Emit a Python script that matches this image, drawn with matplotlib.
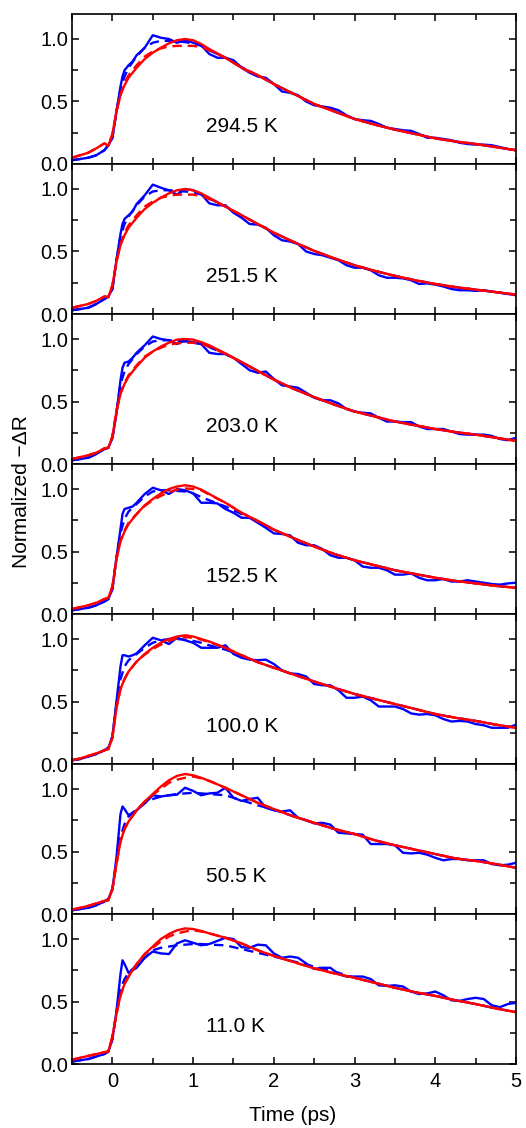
import matplotlib
matplotlib.use("Agg")
import matplotlib.pyplot as plt
from matplotlib.ticker import MultipleLocator, FormatStrFormatter

plt.rcParams["font.family"] = ["Liberation Sans", "DejaVu Sans"]

temps = ["294.5 K", "251.5 K", "203.0 K", "152.5 K", "100.0 K", "50.5 K", "11.0 K"]

# measured traces (blue solid)
t_data = [-0.5, -0.4, -0.3, -0.2, -0.1, -0.05, 0.0, 0.05, 0.1, 0.125, 0.15, 0.2, 0.25, 0.3,
          0.4, 0.5, 0.6, 0.7, 0.8, 0.9, 1.0,
          1.1, 1.2, 1.3, 1.4, 1.5, 1.6, 1.7, 1.8, 1.9, 2.0,
          2.1, 2.2, 2.3, 2.4, 2.5, 2.6, 2.7, 2.8, 2.9, 3.0,
          3.1, 3.2, 3.3, 3.4, 3.5, 3.6, 3.7, 3.8, 3.9, 4.0,
          4.1, 4.2, 4.3, 4.4, 4.5, 4.6, 4.7, 4.8, 4.9, 5.0]

blue_2945 = [0.03, 0.04, 0.05, 0.07, 0.11, 0.15, 0.21, 0.42, 0.62, 0.70, 0.75, 0.79, 0.82, 0.87,
             0.93, 1.03, 1.01, 1.00, 0.97, 0.99, 0.97,
             0.95, 0.88, 0.85, 0.85, 0.83, 0.77, 0.73, 0.70, 0.69, 0.64,
             0.58, 0.57, 0.55, 0.50, 0.47, 0.46, 0.45, 0.43, 0.39, 0.36,
             0.35, 0.345, 0.32, 0.29, 0.28, 0.27, 0.265, 0.24, 0.21, 0.21,
             0.20, 0.19, 0.17, 0.16, 0.155, 0.155, 0.15, 0.135, 0.12, 0.11]
blue_2515 = [0.03, 0.04, 0.05, 0.08, 0.12, 0.14, 0.20, 0.43, 0.64, 0.72, 0.76, 0.79, 0.82, 0.88,
             0.95, 1.035, 1.01, 0.99, 0.955, 1.0, 0.99,
             0.96, 0.885, 0.87, 0.87, 0.81, 0.77, 0.72, 0.715, 0.69, 0.63,
             0.59, 0.58, 0.56, 0.50, 0.48, 0.47, 0.45, 0.43, 0.39, 0.37,
             0.37, 0.35, 0.31, 0.29, 0.29, 0.285, 0.27, 0.24, 0.245, 0.235,
             0.22, 0.20, 0.19, 0.19, 0.185, 0.19, 0.18, 0.17, 0.16, 0.15]
blue_2030 = [0.03, 0.04, 0.05, 0.08, 0.12, 0.13, 0.21, 0.40, 0.67, 0.77, 0.81, 0.82, 0.85, 0.89,
             0.95, 1.02, 1.0, 0.99, 0.96, 0.99, 0.97,
             0.96, 0.89, 0.88, 0.88, 0.85, 0.80, 0.75, 0.73, 0.74, 0.68,
             0.63, 0.62, 0.61, 0.57, 0.53, 0.51, 0.51, 0.485, 0.44, 0.42,
             0.41, 0.405, 0.37, 0.34, 0.34, 0.335, 0.335, 0.30, 0.28, 0.28,
             0.28, 0.26, 0.24, 0.235, 0.235, 0.235, 0.225, 0.20, 0.19, 0.21]
blue_1525 = [0.03, 0.04, 0.05, 0.07, 0.10, 0.12, 0.20, 0.45, 0.68, 0.80, 0.84, 0.85, 0.86, 0.89,
             0.96, 1.01, 0.99, 0.96, 1.0, 0.99, 0.965,
             0.89, 0.89, 0.885, 0.84, 0.81, 0.77, 0.77, 0.73, 0.69, 0.645,
             0.64, 0.63, 0.57, 0.55, 0.55, 0.52, 0.47, 0.45, 0.45, 0.43,
             0.38, 0.37, 0.37, 0.35, 0.315, 0.315, 0.325, 0.29, 0.27, 0.27,
             0.28, 0.26, 0.26, 0.27, 0.26, 0.25, 0.24, 0.235, 0.245, 0.25]
blue_1000 = [0.03, 0.04, 0.06, 0.08, 0.11, 0.13, 0.22, 0.50, 0.78, 0.87, 0.87, 0.86, 0.87, 0.885,
             0.95, 1.01, 0.99, 0.96, 1.01, 0.99, 0.97,
             0.93, 0.93, 0.93, 0.95, 0.88, 0.85, 0.835, 0.83, 0.835, 0.80,
             0.75, 0.725, 0.72, 0.70, 0.64, 0.63, 0.63, 0.59, 0.53, 0.53,
             0.54, 0.51, 0.46, 0.46, 0.46, 0.44, 0.405, 0.395, 0.40, 0.39,
             0.36, 0.34, 0.345, 0.34, 0.32, 0.31, 0.29, 0.29, 0.29, 0.315]
blue_505 = [0.03, 0.04, 0.05, 0.07, 0.10, 0.12, 0.20, 0.45, 0.80, 0.86, 0.84, 0.79, 0.81, 0.83,
            0.885, 0.95, 0.94, 0.95, 0.955, 1.01, 0.985,
            0.95, 0.965, 0.97, 1.01, 0.93, 0.905, 0.92, 0.93, 0.85, 0.83,
            0.82, 0.83, 0.77, 0.75, 0.725, 0.73, 0.715, 0.65, 0.645, 0.64,
            0.635, 0.56, 0.56, 0.56, 0.55, 0.49, 0.485, 0.49, 0.475, 0.45,
            0.43, 0.44, 0.44, 0.43, 0.43, 0.43, 0.40, 0.39, 0.395, 0.41]
blue_110 = [0.02, 0.03, 0.04, 0.06, 0.08, 0.10, 0.20, 0.42, 0.72, 0.83, 0.80, 0.73, 0.75, 0.77,
            0.85, 0.90, 0.885, 0.88, 0.965, 0.99, 0.97,
            0.95, 0.96, 0.985, 1.01, 1.0, 0.935, 0.93, 0.955, 0.95, 0.885,
            0.85, 0.86, 0.85, 0.805, 0.76, 0.77, 0.77, 0.72, 0.70, 0.70,
            0.70, 0.68, 0.63, 0.625, 0.63, 0.62, 0.58, 0.56, 0.565, 0.58,
            0.55, 0.51, 0.505, 0.52, 0.53, 0.52, 0.47, 0.455, 0.48, 0.49]

# fitted curves
t_fit = [-0.5, -0.4, -0.3, -0.2, -0.1, -0.05, 0.0, 0.05, 0.1, 0.15, 0.2,
         0.3, 0.4, 0.5, 0.6, 0.7, 0.8, 0.9, 1.0, 1.1, 1.2,
         1.4, 1.6, 1.8, 2.0, 2.25, 2.5, 2.75,
         3.0, 3.25, 3.5, 3.75, 4.0, 4.25, 4.5, 4.75, 5.0]

red_2945 = [0.05, 0.07, 0.09, 0.125, 0.165, 0.145, 0.24, 0.42, 0.55, 0.63, 0.69,
            0.77, 0.84, 0.89, 0.93, 0.965, 0.99, 1.0, 0.99, 0.96, 0.92,
            0.85, 0.77, 0.71, 0.64, 0.56, 0.48, 0.42,
            0.36, 0.315, 0.275, 0.24, 0.205, 0.18, 0.16, 0.135, 0.11]
redd_2945 = [0.05, 0.07, 0.09, 0.125, 0.165, 0.145, 0.24, 0.42, 0.56, 0.65, 0.71,
             0.79, 0.86, 0.90, 0.925, 0.94, 0.945, 0.945, 0.945, 0.935, 0.91,
             0.85, 0.77, 0.71, 0.64, 0.56, 0.48, 0.42,
             0.36, 0.315, 0.275, 0.24, 0.205, 0.18, 0.16, 0.135, 0.11]
blued_2945 = [0.03, 0.04, 0.05, 0.07, 0.11, 0.15, 0.21, 0.42, 0.60, 0.70, 0.77,
              0.86, 0.93, 0.97, 0.985, 0.985, 0.98, 0.975, 0.965, 0.945, 0.91,
              0.85, 0.775, 0.71, 0.64, 0.56, 0.48, 0.42,
              0.36, 0.315, 0.275, 0.24, 0.205, 0.18, 0.16, 0.135, 0.11]

red_2515 = [0.05, 0.065, 0.08, 0.105, 0.14, 0.135, 0.23, 0.42, 0.55, 0.63, 0.69,
            0.77, 0.84, 0.89, 0.93, 0.965, 0.99, 1.0, 0.99, 0.965, 0.93,
            0.86, 0.79, 0.72, 0.65, 0.575, 0.505, 0.445,
            0.39, 0.345, 0.305, 0.27, 0.24, 0.215, 0.195, 0.175, 0.155]
redd_2515 = [0.05, 0.065, 0.08, 0.105, 0.14, 0.135, 0.23, 0.42, 0.56, 0.65, 0.71,
             0.79, 0.86, 0.90, 0.93, 0.945, 0.955, 0.955, 0.955, 0.945, 0.92,
             0.86, 0.79, 0.72, 0.65, 0.575, 0.505, 0.445,
             0.39, 0.345, 0.305, 0.27, 0.24, 0.215, 0.195, 0.175, 0.155]
blued_2515 = [0.03, 0.04, 0.05, 0.08, 0.12, 0.14, 0.20, 0.43, 0.62, 0.72, 0.78,
              0.87, 0.94, 0.98, 0.99, 0.99, 0.985, 0.98, 0.975, 0.955, 0.925,
              0.86, 0.79, 0.72, 0.65, 0.575, 0.505, 0.445,
              0.39, 0.345, 0.305, 0.27, 0.24, 0.215, 0.195, 0.175, 0.155]

red_2030 = [0.04, 0.055, 0.07, 0.09, 0.125, 0.13, 0.22, 0.42, 0.56, 0.64, 0.70,
            0.78, 0.85, 0.90, 0.94, 0.97, 0.995, 1.0, 0.995, 0.975, 0.95,
            0.885, 0.815, 0.745, 0.675, 0.60, 0.535, 0.475,
            0.42, 0.38, 0.34, 0.31, 0.28, 0.255, 0.235, 0.21, 0.185]
redd_2030 = [0.04, 0.055, 0.07, 0.09, 0.125, 0.13, 0.22, 0.42, 0.57, 0.65, 0.71,
             0.79, 0.86, 0.90, 0.93, 0.955, 0.965, 0.97, 0.97, 0.96, 0.94,
             0.88, 0.815, 0.745, 0.675, 0.60, 0.535, 0.475,
             0.42, 0.38, 0.34, 0.31, 0.28, 0.255, 0.235, 0.21, 0.185]
blued_2030 = [0.03, 0.04, 0.05, 0.08, 0.12, 0.13, 0.21, 0.42, 0.64, 0.74, 0.80,
              0.88, 0.94, 0.98, 0.99, 0.99, 0.985, 0.98, 0.975, 0.96, 0.935,
              0.88, 0.815, 0.745, 0.675, 0.60, 0.535, 0.475,
              0.42, 0.38, 0.34, 0.31, 0.28, 0.255, 0.235, 0.21, 0.185]

red_1525 = [0.04, 0.055, 0.07, 0.09, 0.12, 0.13, 0.22, 0.44, 0.58, 0.66, 0.72,
            0.80, 0.87, 0.92, 0.965, 1.0, 1.02, 1.03, 1.02, 0.995, 0.96,
            0.89, 0.81, 0.745, 0.675, 0.605, 0.54, 0.48,
            0.43, 0.39, 0.35, 0.32, 0.29, 0.265, 0.245, 0.225, 0.21]
redd_1525 = [0.04, 0.055, 0.07, 0.09, 0.12, 0.13, 0.22, 0.44, 0.59, 0.67, 0.73,
             0.80, 0.865, 0.91, 0.945, 0.975, 0.995, 1.005, 1.0, 0.99, 0.955,
             0.89, 0.81, 0.745, 0.675, 0.605, 0.54, 0.48,
             0.43, 0.39, 0.35, 0.32, 0.29, 0.265, 0.245, 0.225, 0.21]
blued_1525 = [0.03, 0.04, 0.05, 0.07, 0.10, 0.12, 0.20, 0.45, 0.65, 0.76, 0.82,
              0.88, 0.94, 0.98, 0.99, 0.99, 0.985, 0.98, 0.965, 0.935, 0.91,
              0.86, 0.80, 0.745, 0.675, 0.605, 0.54, 0.48,
              0.43, 0.39, 0.35, 0.32, 0.29, 0.265, 0.245, 0.225, 0.21]

red_1000 = [0.03, 0.045, 0.065, 0.085, 0.11, 0.12, 0.21, 0.45, 0.60, 0.68, 0.74,
            0.82, 0.88, 0.93, 0.97, 1.0, 1.02, 1.03, 1.02, 1.0, 0.98,
            0.93, 0.87, 0.815, 0.77, 0.715, 0.66, 0.61,
            0.56, 0.52, 0.48, 0.44, 0.40, 0.37, 0.345, 0.315, 0.29]
redd_1000 = [0.03, 0.045, 0.065, 0.085, 0.11, 0.12, 0.21, 0.45, 0.60, 0.68, 0.74,
             0.82, 0.875, 0.92, 0.955, 0.985, 1.005, 1.015, 1.01, 0.995, 0.975,
             0.93, 0.87, 0.815, 0.77, 0.715, 0.66, 0.61,
             0.56, 0.52, 0.48, 0.44, 0.40, 0.37, 0.345, 0.315, 0.29]
blued_1000 = [0.03, 0.04, 0.06, 0.08, 0.11, 0.13, 0.22, 0.48, 0.68, 0.78, 0.83,
              0.88, 0.93, 0.97, 0.99, 1.0, 1.0, 0.995, 0.985, 0.97, 0.95,
              0.915, 0.87, 0.815, 0.77, 0.715, 0.66, 0.61,
              0.56, 0.52, 0.48, 0.44, 0.40, 0.37, 0.345, 0.315, 0.29]

red_505 = [0.035, 0.05, 0.065, 0.085, 0.105, 0.11, 0.20, 0.40, 0.58, 0.68, 0.74,
           0.83, 0.90, 0.96, 1.02, 1.07, 1.105, 1.12, 1.11, 1.09, 1.065,
           1.01, 0.95, 0.89, 0.84, 0.78, 0.73, 0.68,
           0.64, 0.59, 0.55, 0.515, 0.48, 0.445, 0.425, 0.40, 0.37]
redd_505 = [0.035, 0.05, 0.065, 0.085, 0.105, 0.11, 0.20, 0.40, 0.58, 0.68, 0.74,
            0.83, 0.90, 0.955, 1.0, 1.05, 1.075, 1.09, 1.10, 1.085, 1.065,
            1.01, 0.95, 0.89, 0.84, 0.78, 0.73, 0.68,
            0.64, 0.59, 0.55, 0.515, 0.48, 0.445, 0.425, 0.40, 0.37]
blued_505 = [0.03, 0.04, 0.05, 0.07, 0.10, 0.12, 0.20, 0.42, 0.62, 0.72, 0.78,
             0.84, 0.89, 0.92, 0.94, 0.95, 0.96, 0.965, 0.97, 0.965, 0.96,
             0.95, 0.91, 0.87, 0.835, 0.78, 0.73, 0.68,
             0.64, 0.59, 0.55, 0.515, 0.48, 0.445, 0.425, 0.40, 0.37]

red_110 = [0.035, 0.05, 0.065, 0.08, 0.095, 0.10, 0.22, 0.40, 0.55, 0.64, 0.70,
           0.80, 0.88, 0.94, 1.0, 1.04, 1.07, 1.085, 1.08, 1.065, 1.045,
           1.01, 0.965, 0.91, 0.865, 0.815, 0.765, 0.725,
           0.69, 0.65, 0.61, 0.575, 0.545, 0.51, 0.48, 0.445, 0.415]
redd_110 = [0.035, 0.05, 0.065, 0.08, 0.095, 0.10, 0.22, 0.40, 0.55, 0.64, 0.70,
            0.80, 0.88, 0.93, 0.98, 1.02, 1.045, 1.06, 1.07, 1.06, 1.045,
            1.01, 0.965, 0.91, 0.865, 0.815, 0.765, 0.725,
            0.69, 0.65, 0.61, 0.575, 0.545, 0.51, 0.48, 0.445, 0.415]
blued_110 = [0.02, 0.03, 0.04, 0.06, 0.08, 0.10, 0.20, 0.42, 0.60, 0.68, 0.73,
             0.79, 0.85, 0.91, 0.93, 0.94, 0.95, 0.955, 0.96, 0.96, 0.955,
             0.95, 0.92, 0.89, 0.86, 0.82, 0.78, 0.74,
             0.69, 0.65, 0.61, 0.575, 0.545, 0.51, 0.48, 0.445, 0.415]


def main():
    panels = [
        (blue_2945, blued_2945, redd_2945, red_2945),
        (blue_2515, blued_2515, redd_2515, red_2515),
        (blue_2030, blued_2030, redd_2030, red_2030),
        (blue_1525, blued_1525, redd_1525, red_1525),
        (blue_1000, blued_1000, redd_1000, red_1000),
        (blue_505, blued_505, redd_505, red_505),
        (blue_110, blued_110, redd_110, red_110),
    ]
    top, bottom = 0.9876, 0.0567
    fig, axes = plt.subplots(7, 1, figsize=(5.26, 11.28), dpi=100, sharex=True)
    fig.subplots_adjust(left=0.137, right=0.981, top=top, bottom=bottom, hspace=0)

    dash = (0, (4, 2.5))
    for ax, label, (b, bd, rd, r) in zip(axes, temps, panels):
        ax.plot(t_data, b, color="#0000ff", lw=1.7)
        ax.plot(t_fit, bd, color="#0000ff", lw=1.7, ls=dash)
        ax.plot(t_fit, rd, color="#ff0000", lw=1.7, ls=dash)
        ax.plot(t_fit, r, color="#ff0000", lw=1.7)
        ax.text(1.16, 0.30, label, fontsize=15, ha="left", va="center")

        ax.set_xlim(-0.5, 5)
        ax.set_ylim(0, 1.2)
        ax.set_yticks([0.0, 0.5, 1.0])
        ax.yaxis.set_minor_locator(MultipleLocator(0.25))
        ax.yaxis.set_major_formatter(FormatStrFormatter("%.1f"))
        ax.xaxis.set_major_locator(MultipleLocator(1))
        ax.xaxis.set_minor_locator(MultipleLocator(0.5))
        ax.tick_params(which="both", direction="in", top=True, right=True,
                       labelsize=14.5, width=1.1)
        ax.tick_params(which="major", length=5)
        ax.tick_params(which="minor", length=4)
        ax.tick_params(axis="y", pad=3)
        ax.tick_params(axis="x", pad=6)
        for s in ax.spines.values():
            s.set_linewidth(1.2)

    fig.text(0.557, 0.011, "Time (ps)", fontsize=15, ha="center", va="center")
    fig.text(0.040, 0.564, "Normalized \u2212\u0394R", fontsize=15,
             rotation=90, ha="center", va="center")
    fig.savefig("out.png", dpi=100)


if __name__ == "__main__":
    main()
